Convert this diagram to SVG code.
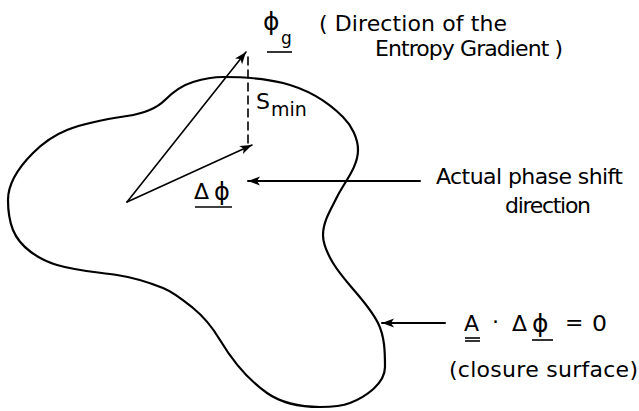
<svg xmlns="http://www.w3.org/2000/svg" width="639" height="411" viewBox="0 0 639 411">
<defs>
<marker id="ah" markerUnits="userSpaceOnUse" markerWidth="14" markerHeight="10" refX="12" refY="4.5" orient="auto">
<path d="M0,0 L12,4.5 L0,9 L3,4.5 Z" fill="#000"/>
</marker>
<style>
.t{font-family:"DejaVu Sans","Liberation Sans",Arial,sans-serif;font-size:22px;fill:#000}
.ln{fill:none;stroke:#000;stroke-linecap:round}
.ul{stroke:#000;stroke-width:1.6}
</style>
</defs>
<rect width="639" height="411" fill="#fff"/>
<g id="surface">
<path class="ln" stroke-width="2.2" d="M8,200 C8,182 20.5,165.5 33,153 C42.7,143.3 54,135.2 67,130 C86,122.4 106.7,119 127,116 C140.6,114 155.2,109.8 165,100 C172.8,92.2 182.5,85.2 193,82 C202.6,79.1 213,77 223,77 C243,77 263.6,78.1 283,83 C305.3,88.6 326.7,100.7 343,117 C351.5,125.5 358,138 358,150 C358,167 344.6,181.8 337,197 C331,209 323,221.5 323,235 C323,245 327.9,254.4 333,263 C345.9,284.4 366.8,300.6 378,323 C384.7,336.4 385,352 385,367 C385,383.8 365.6,396.8 350,403 C340.7,406.7 330,407 320,407 C301.7,407 282,403.5 267,393 C247.7,379.5 232.1,360.2 220,340 C212.8,328 203.9,316.7 193,308 C183.6,300.5 174.1,292.5 163,288 C148.2,282.1 132.8,277.4 117,275 C97,272 76.4,270.8 57,265 C39.1,259.6 19.9,247.4 13,230 C9.3,220.7 8,210 8,200 Z"/>
</g>
<g id="connectors">
<line class="ln" stroke-width="1.6" x1="127" y1="202" x2="246" y2="52" marker-end="url(#ah)"/>
<line class="ln" stroke-width="1.6" x1="127" y1="202" x2="252" y2="145" marker-end="url(#ah)"/>
<line class="ln" stroke-width="1.6" stroke-dasharray="8,5" stroke-linecap="butt" x1="248" y1="57" x2="248" y2="143"/>
<line class="ln" stroke-width="2" x1="420" y1="181" x2="248" y2="181" marker-end="url(#ah)"/>
<line class="ln" stroke-width="2" x1="445" y1="323" x2="382" y2="323" marker-end="url(#ah)"/>
</g>
<g id="phi-g">
<text class="t" x="263" y="30" style="font-size:25px">ϕ</text>
<text class="t" x="281" y="44" style="font-size:17px">g</text>
<line class="ul" x1="267" y1="52" x2="292" y2="52"/>
<text class="t" x="319" y="31" textLength="188" lengthAdjust="spacing">( Direction of the</text>
<text class="t" x="375" y="56" textLength="188" lengthAdjust="spacing">Entropy Gradient )</text>
</g>
<g id="s-min">
<text class="t" x="256" y="109">S</text>
<text class="t" x="271" y="116" style="font-size:19px">min</text>
</g>
<g id="delta-phi">
<text class="t" x="194" y="199">Δ</text>
<text class="t" x="214" y="200" style="font-size:24px">ϕ</text>
<line class="ul" x1="195" y1="207" x2="232" y2="207"/>
</g>
<g id="actual-label">
<text class="t" x="436" y="184" textLength="187" lengthAdjust="spacing">Actual phase shift</text>
<text class="t" x="505" y="213" textLength="86" lengthAdjust="spacing">direction</text>
</g>
<g id="closure-label">
<text class="t" x="464" y="331">A</text>
<line class="ul" x1="465" y1="338" x2="480" y2="338"/>
<line class="ul" x1="465" y1="341" x2="480" y2="341"/>
<text class="t" x="492" y="329">·</text>
<text class="t" x="512" y="331">Δ</text>
<text class="t" x="532" y="332" style="font-size:25px">ϕ</text>
<line class="ul" x1="532" y1="340" x2="553" y2="340"/>
<text class="t" x="565" y="330">=</text>
<text class="t" x="592" y="331" textLength="15" lengthAdjust="spacingAndGlyphs">0</text>
<text class="t" x="449" y="377" textLength="189" lengthAdjust="spacing">(closure  surface)</text>
</g>
</svg>
